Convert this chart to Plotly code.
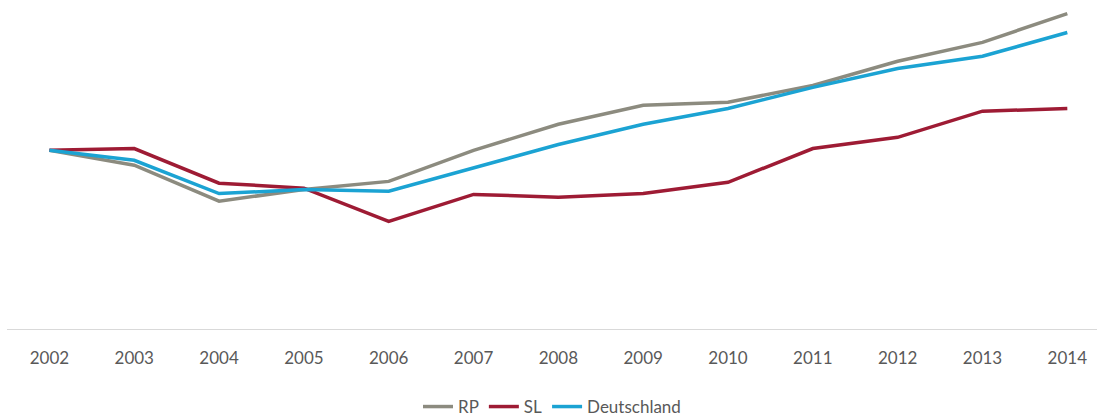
import plotly.graph_objects as go

years = ["2002", "2003", "2004", "2005", "2006", "2007", "2008", "2009", "2010", "2011", "2012", "2013", "2014"]
rp = [100, 96.7, 88.7, 91.3, 93.1, 100, 105.8, 110, 110.7, 114.4, 119.8, 124, 130.4]
sl = [100, 100.4, 92.7, 91.6, 84.2, 90.2, 89.6, 90.4, 92.9, 100.4, 102.9, 108.7, 109.3]
de = [100, 97.8, 90.4, 91.3, 90.9, 96, 101.3, 105.8, 109.3, 114, 118.2, 120.9, 126.2]

series = [("RP", rp, "#8c8b7f"), ("SL", sl, "#9e1b34"), ("Deutschland", de, "#1ba3d3")]

fig = go.Figure()
for name, vals, col in series:
    fig.add_trace(go.Scatter(x=list(range(len(years))), y=vals, name=name, mode="lines",
                             line=dict(color=col, width=3.5)))

fig.update_layout(
    width=1097, height=417,
    margin=dict(l=7, r=0, t=5, b=88),
    paper_bgcolor="white", plot_bgcolor="white",
    font=dict(family="Lato, 'Open Sans', sans-serif", size=17, color="#595959"),
    showlegend=True,
    legend=dict(orientation="h", xanchor="center", x=0.5, yref="container", yanchor="middle",
                y=1 - 407 / 417, font=dict(size=17, color="#595959"), itemwidth=30,
                tracegroupgap=0, bgcolor="rgba(0,0,0,0)"),
    xaxis=dict(range=[-0.5, 12.35], tickmode="array", tickvals=list(range(len(years))),
               ticktext=years, showgrid=False, zeroline=False, showline=True,
               linecolor="#d9d9d9", linewidth=1, ticks="", ticklabelstandoff=14),
    yaxis=dict(range=[60.3, 132.3], visible=False, showgrid=False, zeroline=False),
)

fig.write_html("out.html", config={"displayModeBar": False},
               post_script="document.body.style.margin='0';document.body.style.overflow='hidden';")
